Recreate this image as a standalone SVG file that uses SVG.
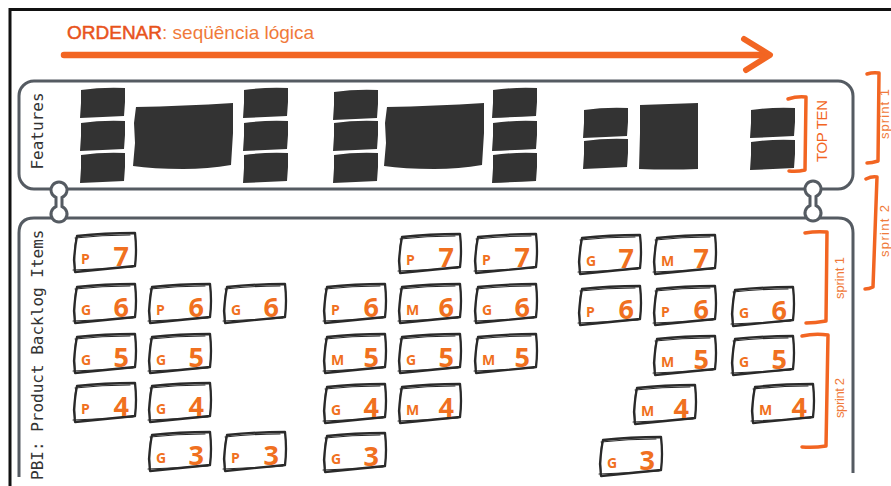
<svg xmlns="http://www.w3.org/2000/svg" xmlns:xlink="http://www.w3.org/1999/xlink" width="891" height="486" viewBox="0 0 891 486">
<style>
.frame{fill:none;stroke:#111;stroke-width:3}
.panel{fill:none;stroke:#555b62;stroke-width:3}
.knob{fill:#fff;stroke:#555b62;stroke-width:3}
.blk{fill:#333333}
.cardo{fill:#fff;stroke:#2a2a2a;stroke-width:2.3;stroke-linejoin:round;stroke-linecap:round}
.cardi{fill:none;stroke:#2a2a2a;stroke-width:1.1;stroke-linecap:round}
.l{font-family:"Open Sans","Liberation Sans",sans-serif;font-weight:700;font-size:14px;fill:#F07020}
.n{font-family:"Open Sans","Liberation Sans",sans-serif;font-weight:700;font-size:27px;fill:#F07020;text-anchor:end}
.br{fill:none;stroke:#F26522;stroke-width:3.5;stroke-linecap:round;stroke-linejoin:round}
.sp{font-family:"Liberation Sans",sans-serif;font-size:13px;fill:#F07A3A;text-anchor:middle}
.lab{font-family:"DejaVu Sans Mono",monospace;font-size:16px;fill:#333}
</style>
<defs>
<g id="card">
<path class="cardo" d="M5,4 Q32,1 63,1 Q65,18 63,34 Q34,37 3,40 L2,28 Q3,14 5,4 Z"/>
<path class="cardi" d="M3,6 Q30,3 58,3 M1,38 Q30,37 61,35 M4,6 Q2,18 3,36"/>
</g>
<path id="bs" d="M1,2 Q22,-1 45,0 L45,14 L44,28 Q23,29 0,30 L1,15 Z"/>
<path id="bl1" d="M3,4 Q50,3 100,0 L100,30 L98,62 Q75,66 50,66 Q20,66 0,63 L2,40 L1,20 Z"/>
<path id="bl3" d="M1,2 Q30,1 59,0 L59,66 Q30,67 0,66 L1,30 Z"/>
<path id="db" d="M-3,-4.58 A8,8 0 1 1 3,-4.58 L3,4.58 A8,8 0 1 1 -3,4.58 Z"/>
</defs>

<path class="frame" d="M10,486 V9.5 H891"/>

<g id="title">
<text x="67" y="39" font-family="Liberation Sans, sans-serif" font-size="19"><tspan fill="#E8531C" stroke="#E8531C" stroke-width="0.5">ORDENAR</tspan><tspan fill="#F07A3A">: seqüência lógica</tspan></text>
</g>

<g id="connectors">
<path d="M64,55 L768,55" fill="none" stroke="#F26522" stroke-width="6.5" stroke-linecap="round"/>
<path d="M744,39 L770,55 L746,70" fill="none" stroke="#F26522" stroke-width="6" stroke-linecap="round" stroke-linejoin="round"/>
</g>

<g id="features-panel">
<rect class="panel" x="19" y="81" width="834" height="108" rx="15"/>
<text class="lab" transform="translate(43,131) rotate(-90)" text-anchor="middle">Features</text>
</g>

<g id="pbi-panel">
<path class="panel" d="M19,477 V233 Q19,218 34,218 H838 Q853,218 853,233 V473"/>
<text class="lab" transform="translate(43,480) rotate(-90)">PBI: Product Backlog Items</text>
</g>

<g id="links">
<use href="#db" class="knob" x="59" y="202"/>
<use href="#db" class="knob" x="813" y="201"/>
</g>

<g id="feature-group-1">
<use href="#bs" class="blk" x="80" y="88"/>
<use href="#bs" class="blk" x="80" y="121"/>
<use href="#bs" class="blk" x="80" y="153"/>
<use href="#bl1" class="blk" x="133" y="103"/>
<use href="#bs" class="blk" x="243" y="88"/>
<use href="#bs" class="blk" x="243" y="121"/>
<use href="#bs" class="blk" x="243" y="153"/>
</g>
<g id="feature-group-2">
<use href="#bs" class="blk" x="333" y="90"/>
<use href="#bs" class="blk" x="333" y="121"/>
<use href="#bs" class="blk" x="333" y="153"/>
<use href="#bl1" class="blk" x="384" y="103"/>
<use href="#bs" class="blk" x="492" y="88"/>
<use href="#bs" class="blk" x="492" y="121"/>
<use href="#bs" class="blk" x="492" y="153"/>
</g>
<g id="feature-group-3">
<use href="#bs" class="blk" x="583" y="108"/>
<use href="#bs" class="blk" x="583" y="139"/>
<use href="#bl3" class="blk" x="639" y="103"/>
<use href="#bs" class="blk" x="750" y="108"/>
<use href="#bs" class="blk" x="750" y="140"/>
</g>

<g id="top-ten">
<path class="br" d="M788,99 Q797,96 806,97 L805,170 Q797,172 789,171"/>
<text transform="translate(827,131) rotate(-90)" font-family="Liberation Sans, sans-serif" font-size="15" fill="#F26522" text-anchor="middle" textLength="62">TOP TEN</text>
</g>

<g id="sprint-outer-1">
<path class="br" d="M867,74 Q873,72 879,73 L878,161 Q872,163 867,163"/>
<text class="sp" transform="translate(889,114) rotate(-90)" textLength="50">sprint 1</text>
</g>
<g id="sprint-outer-2">
<path class="br" d="M866,179 Q872,176 877,177 L873,287 Q869,289 865,289"/>
<text class="sp" transform="translate(889,231) rotate(-90)" textLength="52">sprint 2</text>
</g>
<g id="sprint-inner-1">
<path class="br" d="M805,233 Q816,231 827,232 L826,321 Q815,323 806,323"/>
<text class="sp" transform="translate(844,278) rotate(-90)" textLength="42">sprint 1</text>
</g>
<g id="sprint-inner-2">
<path class="br" d="M802,336 Q815,333 828,335 L826,446 Q814,448 802,447"/>
<text class="sp" transform="translate(844,398) rotate(-90)" textLength="40">sprint 2</text>
</g>

<g id="pbi-g1-p7" transform="translate(72,232)"><use href="#card"/><text class="l" x="9" y="32">P</text><text class="n" x="57" y="34">7</text></g>
<g id="pbi-g1-g6a" transform="translate(72,283)"><use href="#card"/><text class="l" x="9" y="32">G</text><text class="n" x="57" y="34">6</text></g>
<g id="pbi-g1-p6" transform="translate(147,283)"><use href="#card"/><text class="l" x="9" y="32">P</text><text class="n" x="57" y="34">6</text></g>
<g id="pbi-g1-g6b" transform="translate(222,283)"><use href="#card"/><text class="l" x="9" y="32">G</text><text class="n" x="57" y="34">6</text></g>
<g id="pbi-g1-g5a" transform="translate(72,333)"><use href="#card"/><text class="l" x="9" y="32">G</text><text class="n" x="57" y="34">5</text></g>
<g id="pbi-g1-g5b" transform="translate(147,333)"><use href="#card"/><text class="l" x="9" y="32">G</text><text class="n" x="57" y="34">5</text></g>
<g id="pbi-g1-p4" transform="translate(72,382)"><use href="#card"/><text class="l" x="9" y="32">P</text><text class="n" x="57" y="34">4</text></g>
<g id="pbi-g1-g4" transform="translate(147,382)"><use href="#card"/><text class="l" x="9" y="32">G</text><text class="n" x="57" y="34">4</text></g>
<g id="pbi-g1-g3" transform="translate(147,431)"><use href="#card"/><text class="l" x="9" y="32">G</text><text class="n" x="57" y="34">3</text></g>
<g id="pbi-g1-p3" transform="translate(222,431)"><use href="#card"/><text class="l" x="9" y="32">P</text><text class="n" x="57" y="34">3</text></g>

<g id="pbi-g2-p7a" transform="translate(397,233)"><use href="#card"/><text class="l" x="9" y="32">P</text><text class="n" x="57" y="34">7</text></g>
<g id="pbi-g2-p7b" transform="translate(473,233)"><use href="#card"/><text class="l" x="9" y="32">P</text><text class="n" x="57" y="34">7</text></g>
<g id="pbi-g2-p6" transform="translate(322,283)"><use href="#card"/><text class="l" x="9" y="32">P</text><text class="n" x="57" y="34">6</text></g>
<g id="pbi-g2-m6" transform="translate(397,283)"><use href="#card"/><text class="l" x="9" y="32">M</text><text class="n" x="57" y="34">6</text></g>
<g id="pbi-g2-g6" transform="translate(473,283)"><use href="#card"/><text class="l" x="9" y="32">G</text><text class="n" x="57" y="34">6</text></g>
<g id="pbi-g2-m5a" transform="translate(322,333)"><use href="#card"/><text class="l" x="9" y="32">M</text><text class="n" x="57" y="34">5</text></g>
<g id="pbi-g2-g5" transform="translate(397,333)"><use href="#card"/><text class="l" x="9" y="32">G</text><text class="n" x="57" y="34">5</text></g>
<g id="pbi-g2-m5b" transform="translate(473,333)"><use href="#card"/><text class="l" x="9" y="32">M</text><text class="n" x="57" y="34">5</text></g>
<g id="pbi-g2-g4" transform="translate(322,383)"><use href="#card"/><text class="l" x="9" y="32">G</text><text class="n" x="57" y="34">4</text></g>
<g id="pbi-g2-m4" transform="translate(397,383)"><use href="#card"/><text class="l" x="9" y="32">M</text><text class="n" x="57" y="34">4</text></g>
<g id="pbi-g2-g3" transform="translate(322,432)"><use href="#card"/><text class="l" x="9" y="32">G</text><text class="n" x="57" y="34">3</text></g>

<g id="pbi-g3-g7" transform="translate(577,234)"><use href="#card"/><text class="l" x="9" y="32">G</text><text class="n" x="57" y="34">7</text></g>
<g id="pbi-g3-m7" transform="translate(652,234)"><use href="#card"/><text class="l" x="9" y="32">M</text><text class="n" x="57" y="34">7</text></g>
<g id="pbi-g3-p6a" transform="translate(577,285)"><use href="#card"/><text class="l" x="9" y="32">P</text><text class="n" x="57" y="34">6</text></g>
<g id="pbi-g3-p6b" transform="translate(652,285)"><use href="#card"/><text class="l" x="9" y="32">P</text><text class="n" x="57" y="34">6</text></g>
<g id="pbi-g3-g6" transform="translate(730,286)"><use href="#card"/><text class="l" x="9" y="32">G</text><text class="n" x="57" y="34">6</text></g>
<g id="pbi-g3-m5" transform="translate(652,335)"><use href="#card"/><text class="l" x="9" y="32">M</text><text class="n" x="57" y="34">5</text></g>
<g id="pbi-g3-g5" transform="translate(730,335)"><use href="#card"/><text class="l" x="9" y="32">G</text><text class="n" x="57" y="34">5</text></g>
<g id="pbi-g3-m4a" transform="translate(632,384)"><use href="#card"/><text class="l" x="9" y="32">M</text><text class="n" x="57" y="34">4</text></g>
<g id="pbi-g3-m4b" transform="translate(750,383)"><use href="#card"/><text class="l" x="9" y="32">M</text><text class="n" x="57" y="34">4</text></g>
<g id="pbi-g3-g3" transform="translate(598,436)"><use href="#card"/><text class="l" x="9" y="32">G</text><text class="n" x="57" y="34">3</text></g>
</svg>
